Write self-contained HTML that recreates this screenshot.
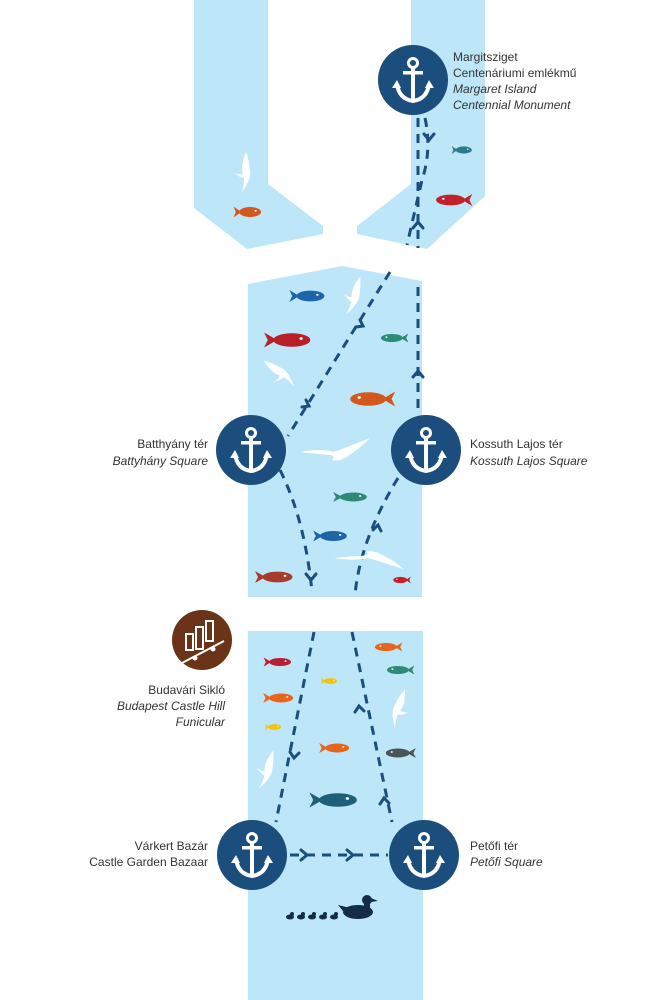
<!DOCTYPE html>
<html><head><meta charset="utf-8"><style>
html,body{margin:0;padding:0;background:#fff}
svg{display:block}
text{font-family:"Liberation Sans",sans-serif;font-size:12px;fill:#333}
.i{font-style:italic}
</style></head><body>
<svg width="664" height="1000" viewBox="0 0 664 1000" xmlns="http://www.w3.org/2000/svg">
<defs>
<g id="anchor">
<circle r="35" fill="#1b4e7d"/>
<circle cx="0" cy="-17" r="4.5" fill="none" stroke="#fff" stroke-width="3"/>
<rect x="-2" y="-13" width="4" height="33" fill="#fff"/>
<rect x="-10" y="-9" width="20" height="3.5" fill="#fff"/>
<path d="M-16,4 Q-14,19 0,21 Q14,19 16,4" fill="none" stroke="#fff" stroke-width="4"/>
<path d="M-21,8 L-16,0 L-12,8Z M21,8 L16,0 L12,8Z" fill="#fff"/>
</g>
<g id="fish">
<ellipse cx="1" cy="0" rx="10" ry="4.5"/>
<path d="M-7,0 L-14,-5 L-12,0 L-14,5Z"/>
<circle cx="6" cy="-1" r="0.9" fill="#fff"/>
</g>
<path id="bird" d="M0,-20 Q-6,-6 -3,2 Q-8,3 -12,0 Q-6,6 -2,6 Q-2,14 -4,20 Q6,6 4,-2 Q3,-12 0,-20Z" fill="#fff"/>
<path id="gull" d="M-40,0 Q-20,-4 -6,0 Q10,-6 30,-14 Q18,-2 8,4 Q0,10 -8,8 Q-4,4 -10,3 Q-24,2 -40,0Z" fill="#fff"/>
</defs>
<g fill="#bde6f8">
<polygon points="194,0 268,0 268,184 323,226 323,234 247,249 194,208"/>
<polygon points="411,0 485,0 485,196 427,249 357,234 357,226 411,184"/>
<polygon points="248,284 342,266 422,281 422,597 248,597"/>
<rect x="248" y="631" width="175" height="369"/>
</g>
<g fill="none" stroke="#1b4e7d" stroke-width="3" stroke-dasharray="9,7">
<path d="M418,118 L418,248"/>
<path d="M425,118 Q432,150 422,180 L407,245"/>
<path d="M418,287 L418,415"/>
<path d="M390,272 L288,436"/>
<path d="M280,470 Q305,520 312,592"/>
<path d="M398,478 Q360,540 355,595"/>
<path d="M314,632 L276,822"/>
<path d="M352,632 L392,822"/>
<path d="M290,855 L388,855"/>
</g>
<g fill="none" stroke="#1b4e7d" stroke-width="3" stroke-linecap="round">
<path d="M424,134 L429,140 L434,134"/>
<path d="M413,228 L418,222 L423,228"/>
<path d="M413,377 L418,371 L423,377"/>
<path d="M360,320 L363,326 L356,327"/>
<path d="M306,400 L309,406 L302,407"/>
<path d="M306,574 L311,580 L316,574"/>
<path d="M373,530 L378,525 L381,531"/>
<path d="M290,752 L294,758 L299,753"/>
<path d="M355,712 L359,706 L364,711"/>
<path d="M380,804 L384,798 L389,803"/>
<path d="M301,850 L307,855 L301,860"/>
<path d="M347,850 L353,855 L347,860"/>
</g>
<use href="#anchor" x="413" y="80"/>
<use href="#anchor" x="251" y="450"/>
<use href="#anchor" x="426" y="450"/>
<use href="#anchor" x="252" y="855"/>
<use href="#anchor" x="424" y="855"/>
<circle cx="202" cy="640" r="30" fill="#6b3418"/>
<g fill="none" stroke="#fff" stroke-width="2">
<rect x="186" y="634" width="7" height="16"/><rect x="196" y="627" width="7" height="22"/><rect x="206" y="621" width="7" height="20"/>
<line x1="182" y1="663" x2="224" y2="641"/>
</g>
<circle cx="195" cy="658" r="2.5" fill="#fff"/><circle cx="213" cy="649" r="2.5" fill="#fff"/>
<g fill="#fff"><use href="#bird" transform="translate(246,172)"/><use href="#bird" transform="translate(355,296) rotate(15)"/><use href="#bird" transform="translate(280,372) rotate(-55)"/><use href="#bird" transform="translate(398,708) rotate(20) scale(-1,1)"/><use href="#bird" transform="translate(268,770) rotate(15)"/>
<use href="#gull" transform="translate(340,452)"/><use href="#gull" transform="translate(374,558) scale(1,-0.8)"/></g>
<use href="#fish" fill="#d2581d" transform="translate(249,212) scale(1.1)"/>
<use href="#fish" fill="#2b7a8a" transform="translate(463,150) scale(0.8)"/>
<use href="#fish" fill="#c4222a" transform="translate(452,200) scale(-1.45,1.2)"/>
<use href="#fish" fill="#1e64aa" transform="translate(309,296) scale(1.4,1.2)"/>
<use href="#fish" fill="#b81f28" transform="translate(290,340) scale(1.85,1.5)"/>
<use href="#fish" fill="#2e8a74" transform="translate(393,338) scale(-1.1,0.9)"/>
<use href="#fish" fill="#d2581d" transform="translate(370,399) scale(-1.8,1.5)"/>
<use href="#fish" fill="#2e8a74" transform="translate(352,497) scale(1.35,1)"/>
<use href="#fish" fill="#1e64aa" transform="translate(332,536) scale(1.35,1.1)"/>
<use href="#fish" fill="#a83b2c" transform="translate(276,577) scale(1.5,1.2)"/>
<use href="#fish" fill="#c4222a" transform="translate(401,580) scale(-0.7,0.7)"/>
<use href="#fish" fill="#b81f36" transform="translate(279,662) scale(1.1,0.9)"/>
<use href="#fish" fill="#e8641d" transform="translate(387,647) scale(-1.1,0.9)"/>
<use href="#fish" fill="#2e8a74" transform="translate(399,670) scale(-1.1,0.9)"/>
<use href="#fish" fill="#f2c40f" transform="translate(330,681) scale(0.65)"/>
<use href="#fish" fill="#e8641d" transform="translate(280,698) scale(1.2,1)"/>
<use href="#fish" fill="#f2c40f" transform="translate(274,727) scale(0.65)"/>
<use href="#fish" fill="#e8641d" transform="translate(336,748) scale(1.2,1)"/>
<use href="#fish" fill="#4a5558" transform="translate(399,753) scale(-1.2,1)"/>
<use href="#fish" fill="#1e5f7a" transform="translate(336,800) scale(1.9,1.5)"/>
<g fill="#142c48">
<ellipse cx="358" cy="912" rx="15" ry="7"/><circle cx="367" cy="900" r="5"/><rect x="364" y="900" width="6" height="10"/><path d="M371,898 L378,901 L371,902Z"/><path d="M343,911 L338,905 L350,908Z"/>
<ellipse cx="290" cy="917" rx="4" ry="2.5"/><circle cx="292" cy="914" r="2"/>
<ellipse cx="301" cy="917" rx="4" ry="2.5"/><circle cx="303" cy="914" r="2"/>
<ellipse cx="312" cy="917" rx="4" ry="2.5"/><circle cx="314" cy="914" r="2"/>
<ellipse cx="323" cy="917" rx="4" ry="2.5"/><circle cx="325" cy="914" r="2"/>
<ellipse cx="334" cy="917" rx="4" ry="2.5"/><circle cx="336" cy="914" r="2"/>
</g>
<text x="453" y="61">Margitsziget</text>
<text x="453" y="77">Centenáriumi emlékmű</text>
<text x="453" y="93" class="i">Margaret Island</text>
<text x="453" y="109" class="i">Centennial Monument</text>
<g text-anchor="end">
<text x="208" y="448">Batthyány tér</text>
<text x="208" y="465" class="i">Battyhány Square</text>
<text x="225" y="694">Budavári Sikló</text>
<text x="225" y="710" class="i">Budapest Castle Hill</text>
<text x="225" y="726" class="i">Funicular</text>
<text x="208" y="850">Várkert Bazár</text>
<text x="208" y="866">Castle Garden Bazaar</text>
</g>
<text x="470" y="448">Kossuth Lajos tér</text>
<text x="470" y="465" class="i">Kossuth Lajos Square</text>
<text x="470" y="850">Petőfi tér</text>
<text x="470" y="866" class="i">Petőfi Square</text>
</svg>
</body></html>
